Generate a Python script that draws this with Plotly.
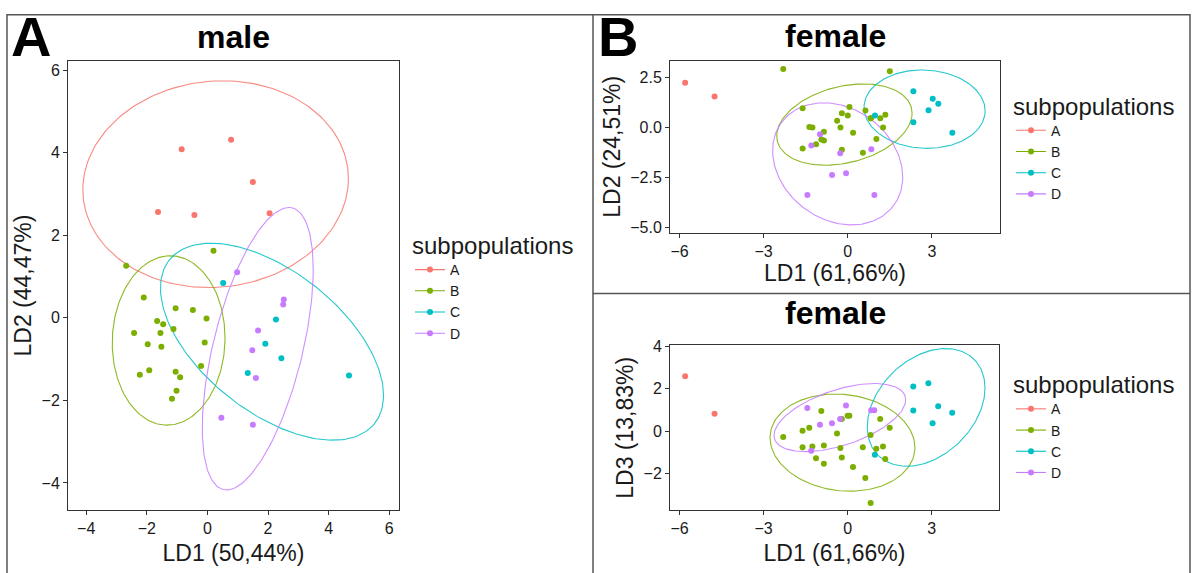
import numpy as np
import plotly.graph_objects as go

# ---------------- data ----------------
groups = ["A", "B", "C", "D"]
colors = {"A": "#F8766D", "B": "#7CAE00", "C": "#00BFC4", "D": "#C77CFF"}

# male: LD1, LD2
male_A_ld1 = [-0.85, 0.78, 1.50, -1.63, -0.43, 2.05]
male_A_ld2 = [4.08, 4.31, 3.29, 2.56, 2.49, 2.53]
male_B_ld1 = [-2.68, 0.20, -2.10, -1.05, -0.48, -0.03, -1.66, -1.46, -1.12, -2.42, -1.55,
              -1.97, -1.52, -0.09, -0.21, -2.23, -1.92, -1.05, -0.90, -1.02, -1.17]
male_B_ld2 = [1.26, 1.62, 0.49, 0.23, 0.19, -0.02, -0.08, -0.16, -0.27, -0.37, -0.37,
              -0.64, -0.70, -0.60, -1.17, -1.38, -1.27, -1.31, -1.44, -1.77, -1.96]
male_C_ld1 = [0.52, 2.26, 1.91, 2.44, 1.33, 4.67]
male_C_ld2 = [0.84, -0.04, -0.63, -0.98, -1.34, -1.40]
male_D_ld1 = [0.98, 2.52, 2.50, 1.67, 1.48, 1.60, 0.46, 1.50]
male_D_ld2 = [1.10, 0.44, 0.32, -0.31, -0.79, -1.46, -2.42, -2.59]

# female: LD1, LD2, LD3
female_A_ld1 = [-5.80, -4.75]
female_A_ld2 = [2.24, 1.55]
female_A_ld3 = [2.60, 0.83]
female_B_ld1 = [-2.30, 1.50, -1.61, -1.61, 0.06, 0.00, 0.63, -0.21, -0.21, -0.38, 1.34, 1.16, 0.82,
                0.82, 1.26, -1.37, -1.26, -0.26, -0.85, 0.19, -0.94, -0.85, -1.13, 1.02, 0.54]
female_B_ld2 = [2.93, 2.81, 0.97, -1.05, 1.03, 0.60, 0.85, 0.72, -1.11, 0.34, 0.64, 0.46, 0.46,
                0.46, 0.00, 0.03, 0.00, 0.00, -0.21, -0.26, -0.60, -0.65, -0.83, -0.57, -1.26]
female_B_ld3 = [-0.27, 0.17, 0.03, -0.75, 0.73, 0.73, -2.20, 0.58, -1.24, -0.11, -1.31, 0.58, -0.18,
                -3.38, -0.72, 0.17, -0.72, -0.79, -0.67, -1.68, 0.95, -1.53, -1.27, -0.82, -0.75]
female_C_ld1 = [2.34, 3.03, 3.23, 2.88, 0.97, 2.34, 3.73]
female_C_ld2 = [1.81, 1.44, 1.19, 0.87, 0.60, 0.26, -0.26]
female_C_ld3 = [2.11, 0.38, 1.18, 2.27, -1.11, 0.98, 0.87]
female_D_ld1 = [-0.99, -1.30, -0.27, 0.84, -0.56, -0.06, -1.44, 0.95]
female_D_ld2 = [-0.34, -0.90, -1.29, -1.09, -2.37, -2.29, -3.37, -3.37]
female_D_ld3 = [0.31, -0.92, 0.58, 0.99, 0.38, 1.22, 1.10, 0.99]

# 95% ellipse parameters: centre x, centre y, A, B, C
# x = cx + A cos t ; y = cy + B cos t + C sin t
male_ell = {"A": (0.27, 3.235, 4.38, 0.135, 2.50),
            "B": (-1.28, -0.55, 1.86, 0.06, 2.05),
            "C": (2.13, -0.58, 3.68, -1.30, 2.00),
            "D": (1.66, -0.75, 1.83, 1.92, 2.83)}
female_ell_ld2 = {"B": (-0.12, 0.15, 2.415, 0.57, 1.95),
                  "C": (2.74, 0.92, 2.16, -0.085, 1.958),
                  "D": (-0.36, -1.815, 2.32, -0.655, 2.98)}
female_ell_ld3 = {"B": (-0.185, -0.535, 2.585, -0.23, 2.28),
                  "C": (2.80, 1.125, 2.10, 0.915, 2.62),
                  "D": (-0.28, 0.645, 2.35, 0.84, 1.368)}

male_pts = {"A": (male_A_ld1, male_A_ld2), "B": (male_B_ld1, male_B_ld2),
            "C": (male_C_ld1, male_C_ld2), "D": (male_D_ld1, male_D_ld2)}
fem2_pts = {"A": (female_A_ld1, female_A_ld2), "B": (female_B_ld1, female_B_ld2),
            "C": (female_C_ld1, female_C_ld2), "D": (female_D_ld1, female_D_ld2)}
fem3_pts = {"A": (female_A_ld1, female_A_ld3), "B": (female_B_ld1, female_B_ld3),
            "C": (female_C_ld1, female_C_ld3), "D": (female_D_ld1, female_D_ld3)}

W, H = 1196, 573
FONT = "Liberation Sans, Arial, sans-serif"


def ellipse(p):
    cx, cy, a, b, c = p
    t = np.linspace(0, 2 * np.pi, 200)
    return cx + a * np.cos(t), cy + b * np.cos(t) + c * np.sin(t)


fig = go.Figure()

panels = [("x", "y", male_pts, male_ell, "legend"),
          ("x2", "y2", fem2_pts, female_ell_ld2, "legend2"),
          ("x3", "y3", fem3_pts, female_ell_ld3, "legend3")]

for xa, ya, pts, ells, leg in panels:
    for g in groups:
        if g in ells:
            ex, ey = ellipse(ells[g])
            fig.add_trace(go.Scatter(x=ex, y=ey, mode="lines", xaxis=xa, yaxis=ya,
                                     line=dict(color=colors[g], width=1.1), opacity=0.85,
                                     showlegend=False, hoverinfo="skip"))
    for g in groups:
        px_, py_ = pts[g]
        fig.add_trace(go.Scatter(x=px_, y=py_, mode="markers", xaxis=xa, yaxis=ya,
                                 marker=dict(color=colors[g], size=6), name=g,
                                 showlegend=False))
    for g in groups:
        fig.add_trace(go.Scatter(x=[None], y=[None], mode="lines+markers", xaxis=xa, yaxis=ya,
                                 line=dict(color=colors[g], width=1.1),
                                 marker=dict(color=colors[g], size=6), name=g,
                                 legend=leg, showlegend=True))


def dom_x(a, b):
    return [a / W, b / W]


def dom_y(top, bottom):
    return [1 - bottom / H, 1 - top / H]


axis_common = dict(showline=True, mirror=True, linecolor="#333333", linewidth=1,
                   ticks="outside", ticklen=4, tickcolor="#333333", showgrid=False,
                   zeroline=False, tickfont=dict(size=16, color="#1a1a1a", family=FONT),
                   title_font=dict(size=23, color="#1a1a1a", family=FONT))

fig.update_layout(
    xaxis=dict(domain=dom_x(68, 399), range=[-4.6, 6.32], tickvals=[-4, -2, 0, 2, 4, 6],
               anchor="y", title=dict(text="LD1 (50,44%)", standoff=8), **axis_common),
    yaxis=dict(domain=dom_y(55, 513), range=[-4.66, 6.22], tickvals=[-4, -2, 0, 2, 4, 6],
               anchor="x", title=dict(text="LD2 (44,47%)", standoff=3), **axis_common),
    xaxis2=dict(domain=dom_x(670, 1000), range=[-6.34, 5.43], tickvals=[-6, -3, 0, 3],
                anchor="y2", title=dict(text="LD1 (61,66%)", standoff=3), **axis_common),
    yaxis2=dict(domain=dom_y(55, 230), range=[-5.25, 3.33], tickvals=[-5, -2.5, 0, 2.5],
                tickformat=".1f", anchor="x2", title=dict(text="LD2 (24,51%)", standoff=3),
                **axis_common),
    xaxis3=dict(domain=dom_x(670, 999), range=[-6.34, 5.40], tickvals=[-6, -3, 0, 3],
                anchor="y3", title=dict(text="LD1 (61,66%)", standoff=8), **axis_common),
    yaxis3=dict(domain=dom_y(345, 513), range=[-3.72, 4.05], tickvals=[-2, 0, 2, 4],
                anchor="x3", title=dict(text="LD3 (13,83%)", standoff=3), **axis_common),
)

leg_common = dict(xanchor="left", yanchor="top", bgcolor="rgba(0,0,0,0)",
                  font=dict(size=14, color="#1a1a1a", family=FONT),
                  title=dict(text="subpopulations", font=dict(size=24, color="#1a1a1a", family=FONT)),
                  tracegroupgap=0)
fig.update_layout(
    legend=dict(x=410 / W, y=1 - 220 / H, **leg_common),
    legend2=dict(x=1011 / W, y=1 - 78 / H, **leg_common),
    legend3=dict(x=1011 / W, y=1 - 362 / H, **leg_common),
)

annos = [
    dict(text="<b>A</b>", x=9 / W, y=1 - 30 / H, xanchor="left", size=56),
    dict(text="<b>B</b>", x=596 / W, y=1 - 30 / H, xanchor="left", size=56),
    dict(text="<b>male</b>", x=233.5 / W, y=1 - 31 / H, xanchor="center", size=32),
    dict(text="<b>female</b>", x=835 / W, y=1 - 30 / H, xanchor="center", size=32),
    dict(text="<b>female</b>", x=835 / W, y=1 - 312 / H, xanchor="center", size=32),
]
fig.update_layout(annotations=[
    dict(text=a["text"], x=a["x"], y=a["y"], xref="paper", yref="paper", xanchor=a["xanchor"],
         yanchor="middle", showarrow=False, font=dict(size=a["size"], color="black", family=FONT))
    for a in annos])

frame = dict(color="#555555", width=1.5)
fig.update_layout(shapes=[
    dict(type="rect", xref="paper", yref="paper", x0=7 / W, x1=1190 / W, y0=-0.01, y1=1 - 8 / H,
         line=frame),
    dict(type="line", xref="paper", yref="paper", x0=593 / W, x1=593 / W, y0=-0.01, y1=1 - 8 / H,
         line=frame),
    dict(type="line", xref="paper", yref="paper", x0=593 / W, x1=1190 / W, y0=1 - 292 / H,
         y1=1 - 292 / H, line=frame),
])

fig.update_layout(width=W, height=H, margin=dict(l=0, r=0, t=0, b=0),
                  paper_bgcolor="white", plot_bgcolor="white",
                  font=dict(family=FONT, color="#1a1a1a"))

post = """
var de=document.documentElement, bd=document.body;
de.style.margin='0'; de.style.padding='0'; de.style.overflow='hidden'; de.style.height='573px';
bd.style.margin='0'; bd.style.padding='0'; bd.style.overflow='hidden'; bd.style.height='573px';
bd.style.lineHeight='0';
document.querySelectorAll('.svg-container').forEach(function(e){e.style.display='block';});
"""
fig.write_html("out.html", config={"displayModeBar": False}, post_script=post)
